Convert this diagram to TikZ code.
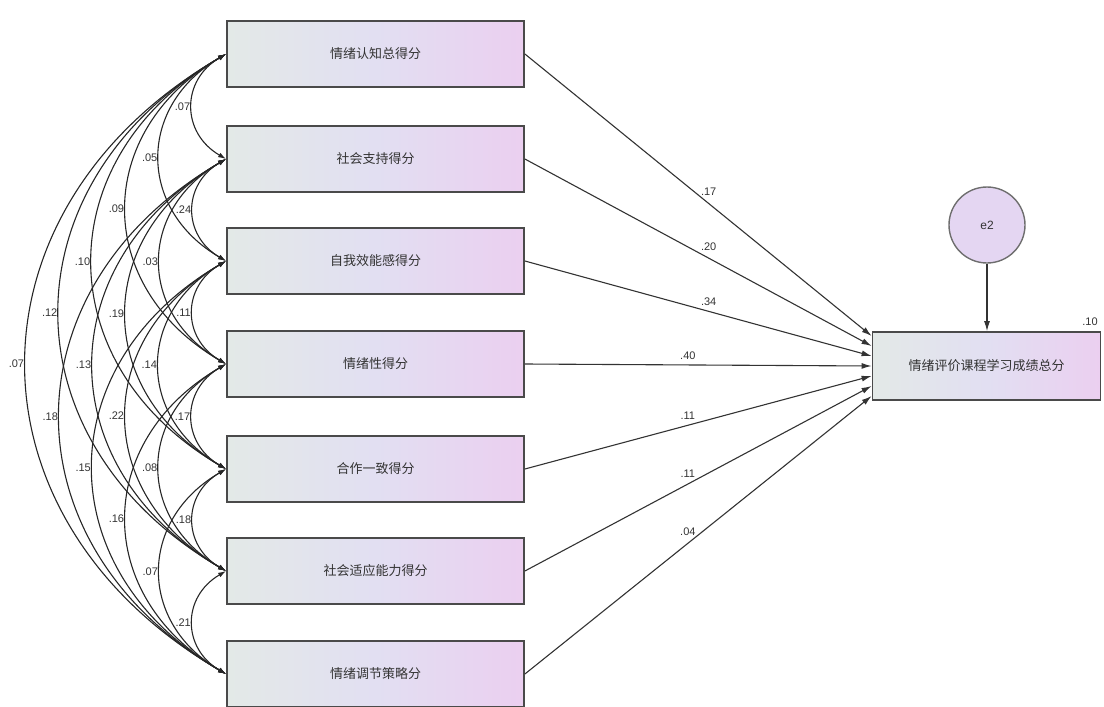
\documentclass[tikz,border=0pt]{standalone}
\usepackage{fontspec}
\setmainfont{Liberation Sans}
\newfontfamily\cjk{Noto Sans CJK SC}
\usetikzlibrary{arrows.meta,calc}
\definecolor{boxline}{HTML}{4A4A4A}
\definecolor{boxleft}{HTML}{E3E9E7}
\definecolor{boxmid}{HTML}{E2DFF2}
\definecolor{boxright}{HTML}{EBCFF0}
\definecolor{errfill}{HTML}{E4D6F2}
\definecolor{txt}{HTML}{333333}
\tikzset{
  obsbox/.style={draw=boxline, line width=1.8pt, minimum width=297pt, minimum height=66pt,
    left color=boxleft, right color=boxright, middle color=boxmid, inner sep=0pt,
    font=\cjk\fontsize{13}{15}\selectfont, text=txt},
  errnode/.style={circle, draw=boxline!80, line width=1.4pt, fill=errfill, minimum size=76pt,
    font=\fontsize{12}{14}\selectfont, text=txt},
  path arrow/.style={draw=black!80, line width=1.1pt, -{Latex[length=10pt,width=6pt]}},
  cov/.style={draw=black!85, line width=1.1pt, {Latex[length=8pt,width=5pt]}-{Latex[length=8pt,width=5pt]}},
  coef/.style={font=\fontsize{11}{13}\selectfont, text=txt, inner sep=1.5pt},
}
\begin{document}
\begin{tikzpicture}[x=1pt,y=-1pt]
\useasboundingbox (0,0) rectangle (1104,707);
% observed variables
\node[obsbox] (b1) at (375.5,54) {情绪认知总得分};
\node[obsbox] (b2) at (375.5,159) {社会支持得分};
\node[obsbox] (b3) at (375.5,261) {自我效能感得分};
\node[obsbox] (b4) at (375.5,364) {情绪性得分};
\node[obsbox] (b5) at (375.5,469) {合作一致得分};
\node[obsbox] (b6) at (375.5,571) {社会适应能力得分};
\node[obsbox] (b7) at (375.5,674) {情绪调节策略分};
% dependent variable
\node[obsbox, minimum width=228pt, minimum height=68pt] (t) at (986.5,366) {情绪评价课程学习成绩总分};
\node[errnode] (e2) at (987,225) {e2};
\draw[path arrow] (e2) -- (e2 |- t.north);
\node[coef, anchor=south east] (r2) at ([xshift=-2pt,yshift=4pt]t.north east) {.10};
% regression paths
\draw[path arrow] (b1.east) -- ([yshift=30pt]t.west) node[coef, pos=0.53, above=6pt] {.17};
\draw[path arrow] (b2.east) -- ([yshift=20pt]t.west) node[coef, pos=0.53, above=5pt] {.20};
\draw[path arrow] (b3.east) -- ([yshift=10pt]t.west) node[coef, pos=0.53, above=4pt] {.34};
\draw[path arrow] (b4.east) -- (t.west) node[coef, pos=0.47, above=3pt] {.40};
\draw[path arrow] (b5.east) -- ([yshift=-10pt]t.west) node[coef, pos=0.47, above=4pt] {.11};
\draw[path arrow] (b6.east) -- ([yshift=-20pt]t.west) node[coef, pos=0.47, above=5pt] {.11};
\draw[path arrow] (b7.east) -- ([yshift=-30pt]t.west) node[coef, pos=0.47, above=6pt] {.04};
% covariances
\foreach \i/\j/\v in {1/2/.07,1/3/.05,1/4/.09,1/5/.10,1/6/.12,1/7/.07,
                      2/3/.24,2/4/.03,2/5/.19,2/6/.13,2/7/.18,
                      3/4/.11,3/5/.14,3/6/.22,3/7/.15,
                      4/5/.17,4/6/.08,4/7/.16,
                      5/6/.18,5/7/.07,
                      6/7/.21}{
  \draw[cov] let \p1=(b\i.west), \p2=(b\j.west), \n1={abs(\y2-\y1)} in
    (\p1) .. controls ($(\p1)+(-0.43*\n1,-0.25*\n1)$) and ($(\p2)+(-0.43*\n1,0.25*\n1)$) .. (\p2)
    node[coef, pos=0.5, anchor=east] {\v};
}
\end{tikzpicture}
\end{document}
